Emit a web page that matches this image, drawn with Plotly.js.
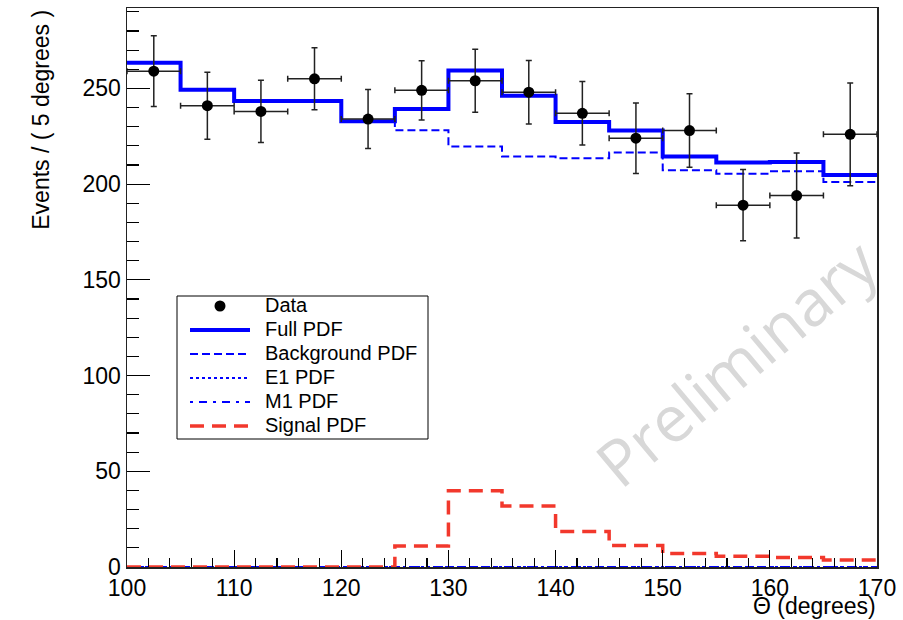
<!DOCTYPE html>
<html>
<head>
<meta charset="utf-8">
<script src="https://cdn.plot.ly/plotly-3.0.1.min.js"></script>
<style>html,body{margin:0;padding:0;background:#fff;}#chart{width:903px;height:620px;}</style>
</head>
<body>
<div id="chart"></div>
<script>
// ---- data ----
const binEdges   = [100,105,110,115,120,125,130,135,140,145,150,155,160,165,170];
const binCenters = [102.5,107.5,112.5,117.5,122.5,127.5,132.5,137.5,142.5,147.5,152.5,157.5,162.5,167.5];
const dataCounts = [259,241,238,255,234,249,254,248,237,224,228,189,194,226];
const dataErrors = [18.5,17.5,16.2,16.2,15.4,15.5,16.4,16.6,16.6,18.4,19.2,18.6,22.2,26.8];
const fullPdf    = [263.4,249.3,243.4,243.4,232.8,239.2,259.4,246.2,232.4,228.0,214.4,211.3,211.6,204.8];
const bkgPdf     = [263.4,249.3,243.4,243.4,232.8,228.1,219.7,214.4,213.5,216.5,207.2,205.4,206.7,201.1];
const e1Pdf      = [0,0,0,0,0,0,0,0,0,0,0,0,0,0];
const m1Pdf      = [0,0,0,0,0,0,0,0,0,0,0,0,0,0];
const signalPdf  = [0,0,0,0,0,11.0,39.8,31.8,18.6,11.2,7.1,5.6,4.9,3.7];
const xTickVals  = [100,110,120,130,140,150,160,170];
const yTickVals  = [0,50,100,150,200,250];
const legendLabels = ['Data','Full PDF','Background PDF','E1 PDF','M1 PDF','Signal PDF'];

// step helper: repeat last bin value at right edge for 'hv' shape
function stepY(v){ return v.concat([v[v.length-1]]); }

const FONT = 'Liberation Sans, Arial, Helvetica, sans-serif';
const BLUE = '#0000ff';
const RED = '#f2382c';

const styles = {
  'Full PDF':       {color: BLUE, width: 4, dash: 'solid'},
  'Background PDF': {color: BLUE, width: 2, dash: '8px,4px'},
  'E1 PDF':         {color: BLUE, width: 2, dash: 'dot'},
  'M1 PDF':         {color: BLUE, width: 2, dash: '3px,6px,8px,6px'},
  'Signal PDF':     {color: RED,  width: 3.5, dash: '14px,8px'}
};

const traces = [
  {x: binEdges, y: stepY(bkgPdf), name: 'Background PDF', mode: 'lines', line: Object.assign({shape: 'hv'}, styles['Background PDF'])},
  {x: binEdges, y: stepY(e1Pdf), name: 'E1 PDF', mode: 'lines', line: Object.assign({shape: 'hv'}, styles['E1 PDF'])},
  {x: binEdges, y: stepY(m1Pdf), name: 'M1 PDF', mode: 'lines', line: Object.assign({shape: 'hv'}, styles['M1 PDF'])},
  {x: binEdges, y: stepY(signalPdf), name: 'Signal PDF', mode: 'lines', line: Object.assign({shape: 'hv'}, styles['Signal PDF'])},
  {x: binEdges, y: stepY(fullPdf), name: 'Full PDF', mode: 'lines', line: Object.assign({shape: 'hv'}, styles['Full PDF'])},
  {x: binCenters, y: dataCounts, name: 'Data', mode: 'markers',
   marker: {color: '#000', size: 11},
   error_y: {type: 'data', array: dataErrors, visible: true, color: '#222', thickness: 1.5, width: 3},
   error_x: {type: 'constant', value: 2.5, visible: true, color: '#222', thickness: 1.5, width: 3}}
];

// ---- legend box drawn in paper coordinates (pixel layout of the reference) ----
const M = {l: 127, r: 26, t: 8, b: 53};
const W = 903, H = 620;
const PW = W - M.l - M.r, PH = H - M.t - M.b;
const px = X => (X - M.l) / PW;
const py = Y => (H - M.b - Y) / PH;

const shapes = [
  {type: 'rect', xref: 'paper', yref: 'paper', x0: px(177), x1: px(428), y0: py(439), y1: py(296),
   fillcolor: '#fff', line: {color: '#000', width: 1}, layer: 'above'}
];
const annotations = [];
const rowY0 = 306, rowStep = 24;
legendLabels.forEach((lab, i) => {
  const yc = rowY0 + i * rowStep;
  if (lab === 'Data') {
    shapes.push({type: 'circle', xref: 'paper', yref: 'paper', x0: px(214.5), x1: px(225.5), y0: py(yc + 5.5), y1: py(yc - 5.5),
                 fillcolor: '#000', line: {color: '#000', width: 0}, layer: 'above'});
  } else {
    const s = styles[lab];
    shapes.push({type: 'line', xref: 'paper', yref: 'paper', x0: px(190), x1: px(250), y0: py(yc), y1: py(yc),
                 line: {color: s.color, width: s.width, dash: s.dash}, layer: 'above'});
  }
  annotations.push({text: lab, xref: 'paper', yref: 'paper', x: px(263), y: py(yc - 1),
                    xanchor: 'left', yanchor: 'middle', showarrow: false,
                    font: {family: FONT, size: 20, color: '#000'}});
});

annotations.push(
  {text: 'Events / ( 5 degrees )', xref: 'paper', yref: 'paper', x: -0.115, y: 1.0,
   xanchor: 'center', yanchor: 'top', textangle: -90, showarrow: false,
   font: {family: FONT, size: 23, color: '#000'}},
  {text: 'Θ (degrees)', xref: 'paper', yref: 'paper', x: 1.0, y: py(620),
   xanchor: 'right', yanchor: 'bottom', showarrow: false, borderpad: 0,
   font: {family: FONT, size: 23, color: '#000'}},
  {text: 'Preliminary', xref: 'x', yref: 'y', x: 156.8, y: 107,
   xanchor: 'center', yanchor: 'middle', textangle: -40, showarrow: false,
   font: {family: 'Open Sans, sans-serif', size: 64, color: '#d8d8d8'}}
);

const layout = {
  width: W, height: H,
  margin: M,
  paper_bgcolor: '#fff', plot_bgcolor: '#fff',
  font: {family: FONT, size: 23, color: '#000'},
  showlegend: false,
  xaxis: {range: [100, 170], tickvals: xTickVals, ticks: 'inside', ticklen: 17, tickwidth: 1.2,
          tickcolor: '#000', showline: true, linecolor: '#222', linewidth: 1.5, mirror: true,
          showgrid: false, zeroline: false, tickfont: {family: FONT, size: 23}, ticklabelstandoff: 0,
          minor: {dtick: 2, ticks: 'inside', ticklen: 9, tickwidth: 1.2, tickcolor: '#000', showgrid: false}},
  yaxis: {range: [0, 292], tickvals: yTickVals, ticks: 'inside', ticklen: 23, tickwidth: 1.2,
          tickcolor: '#000', showline: true, linecolor: '#222', linewidth: 1.5, mirror: true,
          showgrid: false, zeroline: false, tickfont: {family: FONT, size: 23},
          minor: {dtick: 10, ticks: 'inside', ticklen: 12, tickwidth: 1.2, tickcolor: '#000', showgrid: false}},
  shapes: shapes,
  annotations: annotations
};

Plotly.newPlot('chart', traces, layout, {staticPlot: true, displayModeBar: false});
</script>
</body>
</html>
